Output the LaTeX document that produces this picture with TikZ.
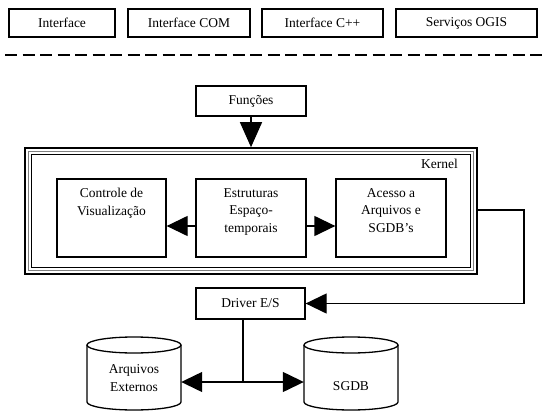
\documentclass[tikz,border=0pt]{standalone}
\usepackage{fontspec}
\setmainfont{Liberation Serif}
\newfontfamily\diagfont{Liberation Serif}
\usetikzlibrary{arrows.meta,calc}
\begin{document}
\begin{tikzpicture}[x=1pt,y=-1pt,
  every node/.style={font=\diagfont\fontsize{13.5}{17.5}\selectfont},
  box/.style={draw,line width=1.3pt,rectangle,inner sep=0pt,align=center},
  conn/.style={line width=1.3pt},
  bigarrow/.style={conn,-{Triangle[length=21pt,width=20pt]}},
  vbigarrow/.style={conn,-{Triangle[length=25pt,width=22pt]}},
  lbl/.style={align=center,inner sep=0pt}]
\useasboundingbox (0,0) rectangle (546,412);
% top interface row
\node[box,minimum width=106pt,minimum height=28pt] (i1) at (62,23) {Interface};
\node[box,minimum width=122pt,minimum height=28pt] (i2) at (189,23) {Interface COM};
\node[box,minimum width=121pt,minimum height=28pt] (i3) at (322.5,23) {Interface C++};
\node[box,minimum width=141pt,minimum height=28pt] (i4) at (466.5,23) {Serviços OGIS};
\draw[line width=1.8pt,dash pattern=on 12pt off 5.5pt] (5,55) -- (546,55);
% Funcoes
\node[box,minimum width=110pt,minimum height=30pt] (fun) at (251,101) {Funções};
% Kernel frame
\node[draw,line width=1.6pt,minimum width=452pt,minimum height=126pt,inner sep=0pt] (kern) at (251,211) {};
\draw[line width=0.5pt,gray] (28.5,151.5) rectangle (473.5,270.5);
\draw[line width=1.6pt] (31.5,154.5) rectangle (470.5,267.5);
\node[lbl,anchor=east] (klab) at (458,164) {Kernel};
% inner boxes
\node[box,minimum width=109pt,minimum height=78pt] (ctrl) at (111.5,218) {};
\node[box,minimum width=110pt,minimum height=78pt] (estr) at (251,218) {};
\node[box,minimum width=110pt,minimum height=78pt] (aces) at (391,218) {};
\node[lbl,anchor=north] (tctrl) at ($(ctrl.north)+(0,10)$) {Controle de\\Visualização};
\node[lbl,anchor=north] (testr) at ($(estr.north)+(0,10)$) {Estruturas\\Espaço-\\temporais};
\node[lbl,anchor=north] (taces) at ($(aces.north)+(0,10)$) {Acesso a\\Arquivos e\\SGDB’s};
\coordinate (hy) at (0,226);
\draw[bigarrow] (estr.west |- hy) -- (ctrl.east |- hy);
\draw[bigarrow] (estr.east |- hy) -- (aces.west |- hy);
\draw[vbigarrow] (fun.south) -- (fun.south |- kern.north);
% Driver
\node[box,minimum width=109pt,minimum height=31pt] (drv) at (250.5,303.5) {Driver E/S};
\coordinate (ky) at (0,210);
\coordinate (rx) at (524,0);
\draw[bigarrow] (kern.east |- ky) -- (rx |- ky) -- (rx |- drv.east) -- (drv.east);
% cylinders
\foreach \L/\R in {87/181,304/398}{
  \pgfmathsetmacro{\cx}{(\L+\R)/2}
  \pgfmathsetmacro{\rxx}{(\R-\L)/2}
  \draw[line width=1.3pt] (\L,345) -- (\L,402) arc[start angle=180,end angle=360,x radius=\rxx pt,y radius=8pt] -- (\R,345);
  \draw[line width=1.3pt] (\cx,345) ellipse[x radius=\rxx pt,y radius=8pt];
}
\node[inner sep=0pt,minimum width=94pt,minimum height=73pt] (arq) at (134,373.5) {};
\node[inner sep=0pt,minimum width=94pt,minimum height=73pt] (sgdb) at (351,373.5) {};
\node[lbl] (tarq) at (134,378) {Arquivos\\Externos};
\node[lbl] (tsg) at (351,386) {SGDB};
\coordinate (vx) at (243,0);
\coordinate (hy2) at (0,382);
\coordinate (jn) at (243,382);
\draw[conn] (vx |- drv.south) -- (jn);
\draw[bigarrow] (jn) -- (arq.east |- hy2);
\draw[bigarrow] (jn) -- (sgdb.west |- hy2);
\end{tikzpicture}
\end{document}
